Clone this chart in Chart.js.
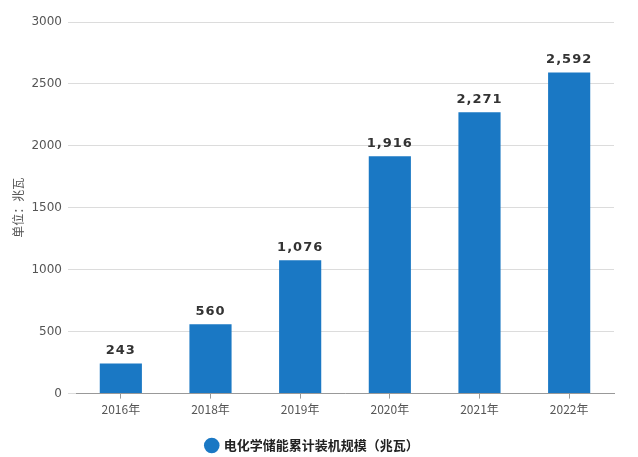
<!DOCTYPE html>
<html>
<head>
<meta charset="utf-8">
<script src="https://cdn.jsdelivr.net/npm/chart.js@4/dist/chart.umd.min.js"></script>
<style>
  html, body { margin: 0; padding: 0; background: #fff; }
</style>
</head>
<body>
<canvas id="chart" width="638" height="457"></canvas>
<script>
// data
const years = ['2016年', '2018年', '2019年', '2020年', '2021年', '2022年'];
const capacity = [243, 560, 1076, 1916, 2271, 2592];
const yTicks = [0, 500, 1000, 1500, 2000, 2500, 3000];

const BAR_COLOR = '#1a78c4';
const GRID_COLOR = '#dcdcdc';
const TEXT_COLOR = '#555';

// value labels above each bar
const valueLabels = {
    id: 'valueLabels',
    afterDatasetsDraw(chart) {
        const { ctx } = chart;
        const meta = chart.getDatasetMeta(0);
        ctx.save();
        ctx.font = 'bold 13px "DejaVu Sans", sans-serif';
        ctx.fillStyle = '#333';
        ctx.textAlign = 'center';
        ctx.textBaseline = 'bottom';
        if ('letterSpacing' in ctx) ctx.letterSpacing = '1px';
        meta.data.forEach((bar, i) => {
            ctx.fillText(capacity[i].toLocaleString('en-US'), bar.x, bar.y - 6);
        });
        ctx.restore();
    }
};

new Chart(document.getElementById('chart').getContext('2d'), {
    type: 'bar',
    data: {
        labels: years,
        datasets: [{
            label: '电化学储能累计装机规模（兆瓦）',
            data: capacity,
            backgroundColor: BAR_COLOR,
            categoryPercentage: 0.94,
            barPercentage: 0.5,
        }],
    },
    options: {
        responsive: false,
        animation: false,
        devicePixelRatio: 1,
        layout: { padding: { left: 11, right: 24, top: 22, bottom: -5 } },
        plugins: {
            tooltip: { enabled: false },
            legend: {
                position: 'bottom',
                labels: {
                    usePointStyle: true,
                    pointStyle: 'circle',
                    boxWidth: 11,
                    boxHeight: 11,
                    padding: 5,
                    color: '#222',
                    font: { family: '"Noto Sans CJK SC", sans-serif', size: 13, weight: 'bold' },
                },
            },
        },
        scales: {
            x: {
                afterFit(scale) { scale.height += 13; },
                grid: { display: true, drawOnChartArea: false, offset: false, tickLength: 5, color: '#999' },
                border: { color: '#999' },
                ticks: {
                    color: TEXT_COLOR,
                    padding: 4,
                    maxRotation: 0,
                    font: { family: '"Noto Sans CJK SC", sans-serif', size: 12 },
                },
            },
            y: {
                min: 0,
                max: 3000,
                afterBuildTicks(scale) {
                    scale.ticks = yTicks.map(v => ({ value: v }));
                },
                afterFit(scale) { scale.width = 65; },
                grid: { color: GRID_COLOR, tickLength: 8 },
                border: { display: false },
                ticks: {
                    color: TEXT_COLOR,
                    padding: 6,
                    callback: v => String(v),
                    font: { family: '"DejaVu Sans", sans-serif', size: 12 },
                },
                title: {
                    display: true,
                    text: '单位：兆瓦',
                    color: TEXT_COLOR,
                    padding: 0,
                    font: { family: '"Noto Sans CJK SC", sans-serif', size: 12 },
                },
            },
        },
    },
    plugins: [valueLabels],
});
</script>
</body>
</html>
